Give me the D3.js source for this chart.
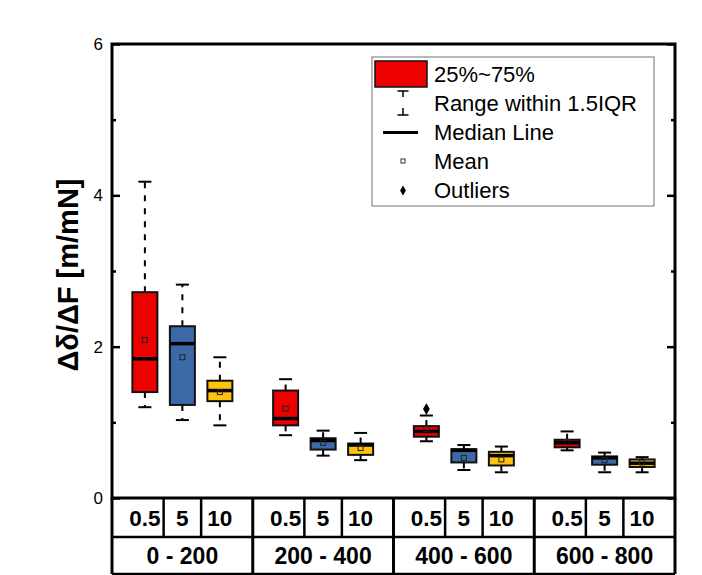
<!DOCTYPE html>
<html>
<head>
<meta charset="utf-8">
<script src="https://cdn.jsdelivr.net/npm/d3@7"></script>
<style>
  html, body { margin: 0; padding: 0; background: #fff; }
  svg { display: block; font-family: Arial, "Liberation Sans", sans-serif; }
</style>
</head>
<body>
<svg id="chart" width="702" height="575"></svg>
<script>
// Displacement / force ratio by depth range (groups) and loading speed (boxes)
const ranges = ["0 - 200", "200 - 400", "400 - 600", "600 - 800"];
const speeds = ["0.5", "5", "10"];
const speedColors = ["#ED0000", "#3C6AA8", "#FFC20E"];

// one row per range, one value per speed
const whiskerLow  = [[1.20, 1.03, 0.96], [0.83, 0.56, 0.50], [0.75, 0.37, 0.34], [0.63, 0.34, 0.34]];
const quartile1   = [[1.40, 1.23, 1.28], [0.96, 0.64, 0.57], [0.81, 0.47, 0.43], [0.67, 0.44, 0.41]];
const medians     = [[1.84, 2.04, 1.42], [1.05, 0.76, 0.70], [0.88, 0.63, 0.56], [0.73, 0.53, 0.46]];
const quartile3   = [[2.72, 2.27, 1.55], [1.42, 0.79, 0.72], [0.95, 0.645, 0.61], [0.77, 0.55, 0.51]];
const whiskerHigh = [[4.18, 2.82, 1.86], [1.57, 0.89, 0.86], [1.09, 0.70, 0.68], [0.88, 0.60, 0.54]];
const means       = [[2.09, 1.86, 1.40], [1.18, 0.73, 0.66], [0.91, 0.53, 0.51], [0.74, 0.50, 0.47]];
const outlierRange = ["400 - 600"];
const outlierSpeed = ["0.5"];
const outlierValue = [1.175];

const yMajor = [0, 2, 4, 6];
const yMinor = [1, 3, 5];
const legendLabels = ["25%~75%", "Range within 1.5IQR", "Median Line", "Mean", "Outliers"];

const svg = d3.select("#chart");
const L = 112, R = 675, T = 44, B = 498;
const row1 = 537, row2 = 574;

const x = d3.scaleBand().domain(ranges).range([L, R]);
const xs = d3.scalePoint().domain(speeds)
  .range([x.bandwidth() / 2 - 37.5, x.bandwidth() / 2 + 37.5]);
const y = d3.scaleLinear().domain([0, 6]).range([B, T]);
const color = d3.scaleOrdinal().domain(speeds).range(speedColors);

const boxes = [];
ranges.forEach((r, i) => speeds.forEach((s, j) => boxes.push({
  range: r, speed: s,
  lo: whiskerLow[i][j], q1: quartile1[i][j], med: medians[i][j],
  q3: quartile3[i][j], hi: whiskerHigh[i][j], mean: means[i][j]
})));
const cx = d => x(d.range) + xs(d.speed);
const boxW = 25, capW = 13;

// axes: ticks pointing into the plot
svg.append("g").attr("transform", `translate(${L},0)`)
  .call(d3.axisLeft(y).tickValues(yMajor).tickFormat(d3.format("d"))
    .tickSizeInner(-8).tickSizeOuter(0).tickPadding(9))
  .call(g => g.select(".domain").remove())
  .call(g => g.selectAll("line").attr("stroke", "#000").attr("stroke-width", 2.5))
  .call(g => g.selectAll("text").attr("font-size", 17).attr("fill", "#000")
    .attr("font-family", "Arial, 'Liberation Sans', sans-serif"));
svg.append("g").attr("transform", `translate(${L},0)`)
  .call(d3.axisLeft(y).tickValues(yMinor).tickSizeInner(-4).tickSizeOuter(0).tickFormat(""))
  .call(g => g.select(".domain").remove())
  .call(g => g.selectAll("line").attr("stroke", "#000").attr("stroke-width", 2.5));
svg.append("g").attr("transform", `translate(${R},0)`)
  .call(d3.axisRight(y).tickValues(yMajor).tickSizeInner(-8).tickSizeOuter(0).tickFormat(""))
  .call(g => g.select(".domain").remove())
  .call(g => g.selectAll("line").attr("stroke", "#000").attr("stroke-width", 2.5));
svg.append("g").attr("transform", `translate(${R},0)`)
  .call(d3.axisRight(y).tickValues(yMinor).tickSizeInner(-4).tickSizeOuter(0).tickFormat(""))
  .call(g => g.select(".domain").remove())
  .call(g => g.selectAll("line").attr("stroke", "#000").attr("stroke-width", 2.5));

// y title
svg.append("text")
  .attr("transform", `translate(78,${(T + B) / 2 + 4}) rotate(-90)`)
  .attr("text-anchor", "middle")
  .attr("font-size", 29).attr("font-weight", "bold")
  .text("Δδ/ΔF [m/mN]");

// boxes
const gBox = svg.append("g");
const gb = gBox.selectAll("g").data(boxes).join("g");
// whiskers (dashed, drawn outward from the box)
gb.append("line")
  .attr("x1", cx).attr("x2", cx)
  .attr("y1", d => y(d.q3)).attr("y2", d => y(d.hi))
  .attr("stroke", "#000").attr("stroke-width", 2).attr("stroke-dasharray", "6,7");
gb.append("line")
  .attr("x1", cx).attr("x2", cx)
  .attr("y1", d => y(d.q1)).attr("y2", d => y(d.lo))
  .attr("stroke", "#000").attr("stroke-width", 2).attr("stroke-dasharray", "6,7");
gb.append("line")
  .attr("x1", d => cx(d) - capW / 2).attr("x2", d => cx(d) + capW / 2)
  .attr("y1", d => y(d.hi)).attr("y2", d => y(d.hi))
  .attr("stroke", "#000").attr("stroke-width", 2);
gb.append("line")
  .attr("x1", d => cx(d) - capW / 2).attr("x2", d => cx(d) + capW / 2)
  .attr("y1", d => y(d.lo)).attr("y2", d => y(d.lo))
  .attr("stroke", "#000").attr("stroke-width", 2);
gb.append("rect")
  .attr("x", d => cx(d) - boxW / 2).attr("width", boxW)
  .attr("y", d => y(d.q3)).attr("height", d => y(d.q1) - y(d.q3))
  .attr("fill", d => color(d.speed)).attr("stroke", "#111").attr("stroke-width", 2);
gb.append("line")
  .attr("x1", d => cx(d) - boxW / 2).attr("x2", d => cx(d) + boxW / 2)
  .attr("y1", d => y(d.med)).attr("y2", d => y(d.med))
  .attr("stroke", "#000").attr("stroke-width", 3.5);
gb.append("rect")
  .attr("x", d => cx(d) - 2.5).attr("y", d => y(d.mean) - 2.5)
  .attr("width", 5).attr("height", 5)
  .attr("fill", "none").attr("stroke", "#222").attr("stroke-width", 1);

// outliers
const diamond = d3.symbol().type(d3.symbolDiamond).size(40);
svg.append("g").selectAll("path").data(outlierValue).join("path")
  .attr("d", diamond)
  .attr("transform", (v, i) => `translate(${x(outlierRange[i]) + xs(outlierSpeed[i])},${y(v)})`)
  .attr("fill", "#000");

// frame
svg.append("rect").attr("x", L).attr("y", T).attr("width", R - L).attr("height", B - T)
  .attr("fill", "none").attr("stroke", "#000").attr("stroke-width", 3);

// category table below the axis
const gT = svg.append("g").attr("stroke", "#000");
gT.append("line").attr("x1", L).attr("x2", R).attr("y1", row1).attr("y2", row1).attr("stroke-width", 2.5);
gT.append("line").attr("x1", L).attr("x2", R).attr("y1", row2).attr("y2", row2).attr("stroke-width", 2.5);
const groupEdges = ranges.map(r => x(r)).concat([R]);
gT.selectAll(".gsep").data(groupEdges).join("line")
  .attr("x1", d => d).attr("x2", d => d).attr("y1", B).attr("y2", row2)
  .attr("stroke-width", 3);
const subEdges = [];
ranges.forEach(r => {
  subEdges.push(x(r) + (xs("0.5") + xs("5")) / 2);
  subEdges.push(x(r) + (xs("5") + xs("10")) / 2);
});
gT.selectAll(".ssep").data(subEdges).join("line")
  .attr("x1", d => d).attr("x2", d => d).attr("y1", B).attr("y2", row1)
  .attr("stroke-width", 2.5);

const cells = [];
ranges.forEach(r => speeds.forEach(s => cells.push({ range: r, speed: s })));
svg.append("g").selectAll("text").data(cells).join("text")
  .attr("x", d => x(d.range) + xs(d.speed))
  .attr("y", (B + row1) / 2 + 8)
  .attr("text-anchor", "middle").attr("font-size", 22.5).attr("font-weight", "bold")
  .text(d => d.speed);
svg.append("g").selectAll("text").data(ranges).join("text")
  .attr("x", d => x(d) + x.bandwidth() / 2)
  .attr("y", (row1 + row2) / 2 + 8)
  .attr("text-anchor", "middle").attr("font-size", 23).attr("font-weight", "bold")
  .text(d => d);

// legend
const lg = svg.append("g");
lg.append("rect").attr("x", 372).attr("y", 57).attr("width", 282).attr("height", 149)
  .attr("fill", "#fff").attr("stroke", "#888").attr("stroke-width", 1.2);
const lx = 403, tx = 434;
const rowY = [74, 103, 132, 161, 190];
lg.append("rect").attr("x", 375).attr("y", 61).attr("width", 52).attr("height", 26)
  .attr("fill", speedColors[0]).attr("stroke", "#111").attr("stroke-width", 1.5);
// whisker icon
lg.append("line").attr("x1", lx - 5.5).attr("x2", lx + 5.5).attr("y1", 91).attr("y2", 91).attr("stroke", "#000").attr("stroke-width", 1.5);
lg.append("line").attr("x1", lx).attr("x2", lx).attr("y1", 91).attr("y2", 97).attr("stroke", "#000").attr("stroke-width", 1.5);
lg.append("line").attr("x1", lx).attr("x2", lx).attr("y1", 108).attr("y2", 115).attr("stroke", "#000").attr("stroke-width", 1.5);
lg.append("line").attr("x1", lx - 5.5).attr("x2", lx + 5.5).attr("y1", 115).attr("y2", 115).attr("stroke", "#000").attr("stroke-width", 1.5);
// median icon
lg.append("line").attr("x1", 383).attr("x2", 418).attr("y1", 132.5).attr("y2", 132.5).attr("stroke", "#000").attr("stroke-width", 3);
// mean icon
lg.append("rect").attr("x", lx - 2).attr("y", 159).attr("width", 4).attr("height", 4)
  .attr("fill", "none").attr("stroke", "#333").attr("stroke-width", 1);
// outlier icon
lg.append("path").attr("d", d3.symbol().type(d3.symbolDiamond).size(30))
  .attr("transform", `translate(${lx},190.5)`).attr("fill", "#000");
lg.selectAll(".lt").data(legendLabels).join("text")
  .attr("x", tx).attr("y", (d, i) => rowY[i] + 7.5)
  .attr("font-size", 22)
  .text(d => d);
</script>
</body>
</html>
